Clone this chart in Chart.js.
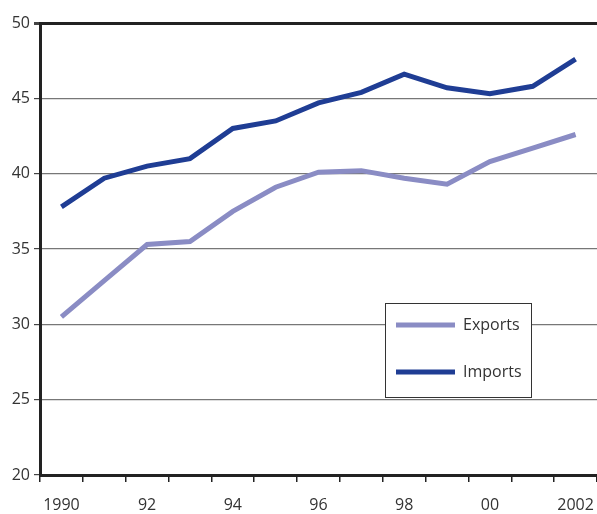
<!DOCTYPE html>
<html>
<head>
<meta charset="utf-8">
<script src="https://cdn.jsdelivr.net/npm/chart.js@4"></script>
<style>
  html, body { margin: 0; padding: 0; background: #fff; }
  #wrap { width: 597px; height: 514px; }
</style>
</head>
<body>
<div id="wrap"><canvas id="tradeChart"></canvas></div>
<script>
const years = ['1990', '91', '92', '93', '94', '95', '96', '97', '98', '99', '00', '01', '2002'];
const exportsData = [30.5, 32.9, 35.3, 35.5, 37.5, 39.1, 40.1, 40.2, 39.7, 39.3, 40.8, 41.7, 42.6];
const importsData = [37.8, 39.7, 40.5, 41.0, 43.0, 43.5, 44.7, 45.4, 46.6, 45.7, 45.3, 45.8, 47.6];

const ctx = document.getElementById('tradeChart');

// legend drawn as a framed box inside the plot, like the original
const boxLegend = {
    id: 'boxLegend',
    afterDraw(chart) {
        const c = chart.ctx;
        const x = 385, y = 303, w = 146, h = 94;
        c.save();
        c.fillStyle = '#fff';
        c.fillRect(x, y, w, h);
        c.strokeStyle = '#333';
        c.lineWidth = 1;
        c.strokeRect(x + 0.5, y + 0.5, w, h);
        c.font = '16px "Open Sans", sans-serif';
        c.textBaseline = 'middle';
        chart.data.datasets.forEach((ds, i) => {
            const ly = y + 22 + i * 47;
            c.strokeStyle = ds.borderColor;
            c.lineWidth = 5;
            c.beginPath();
            c.moveTo(x + 11, ly);
            c.lineTo(x + 70, ly);
            c.stroke();
            c.fillStyle = '#333';
            c.fillText(ds.label, x + 78, ly);
        });
        c.restore();
    }
};

new Chart(ctx, {
    type: 'line',
    data: {
        labels: years,
        datasets: [{
            label: 'Exports',
            data: exportsData,
            borderColor: '#8a8cc4',
            borderWidth: 5,
            pointRadius: 0,
            tension: 0,
            fill: false
        }, {
            label: 'Imports',
            data: importsData,
            borderColor: '#1f3d94',
            borderWidth: 5,
            pointRadius: 0,
            tension: 0,
            fill: false
        }]
    },
    options: {
        responsive: true,
        maintainAspectRatio: false,
        animation: false,
        layout: {
            padding: { top: 23, right: 0, bottom: 0, left: 0 }
        },
        plugins: {
            legend: { display: false },
            tooltip: { enabled: false }
        },
        scales: {
            x: {
                offset: true,
                afterFit: function (scale) {
                    scale.height = 39;
                    scale.paddingRight = 0;
                    scale.paddingLeft = 0;
                },
                grid: {
                    display: true,
                    offset: true,
                    drawOnChartArea: false,
                    tickLength: 7,
                    color: '#222',
                    lineWidth: 1.5
                },
                border: { color: '#222', width: 3 },
                ticks: {
                    autoSkip: false,
                    maxRotation: 0,
                    padding: 14,
                    color: '#333',
                    font: { family: '"Open Sans", sans-serif', size: 16 },
                    callback: function (value, index) {
                        return index % 2 === 0 ? years[index] : '';
                    }
                }
            },
            y: {
                min: 20,
                max: 50,
                afterFit: function (scale) { scale.width = 40; },
                grid: {
                    tickLength: 6,
                    color: function (c) { return c.tick && c.tick.value === 50 ? '#222' : '#777'; },
                    lineWidth: function (c) { return c.tick && c.tick.value === 50 ? 3 : 1.2; },
                    tickColor: '#444'
                },
                border: { color: '#222', width: 3 },
                ticks: {
                    stepSize: 5,
                    padding: 4,
                    color: '#333',
                    font: { family: '"Open Sans", sans-serif', size: 16 }
                }
            }
        }
    },
    plugins: [boxLegend]
});
</script>
</body>
</html>
